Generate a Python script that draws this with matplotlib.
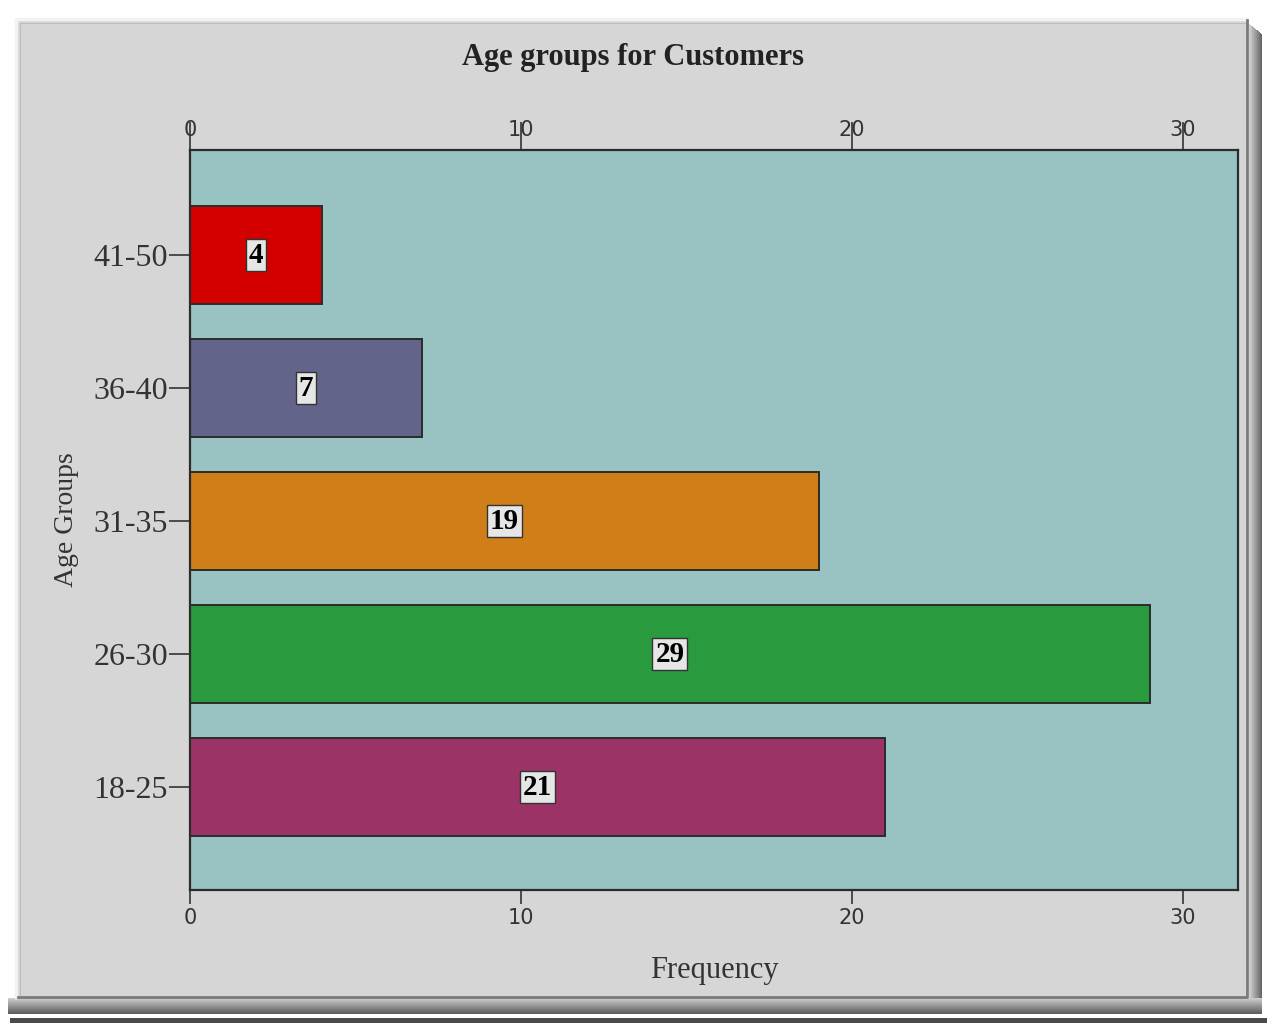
import numpy as np
import matplotlib.pyplot as plt
from matplotlib.patches import Rectangle
from matplotlib.lines import Line2D

# Customer counts per age group (bottom to top)
age_groups = ["18-25", "26-30", "31-35", "36-40", "41-50"]
frequency = [21, 29, 19, 7, 4]
bar_colors = ["#9b3366", "#2a9a3e", "#d07e18", "#636489", "#d40000"]
x_ticks = [0, 10, 20, 30]

W, H = 1267, 1023
fig = plt.figure(figsize=(W / 100, H / 100), dpi=100, facecolor="white")


def px_rect(x0, y0, x1, y1, **kw):
    return Rectangle((x0 / W, 1 - y1 / H), (x1 - x0) / W, (y1 - y0) / H,
                     transform=fig.transFigure, zorder=-10, **kw)


def px_line(xs, ys, **kw):
    return Line2D([x / W for x in xs], [1 - y / H for y in ys],
                  transform=fig.transFigure, zorder=-9, **kw)


# bevelled shadow under and to the right of the panel
for i, g in enumerate(np.linspace(0.80, 0.36, 16)):
    fig.patches.append(px_rect(8, 998 + i, 1262, 999 + i, facecolor=str(g),
                               edgecolor="none"))
for i, g in enumerate(np.linspace(0.82, 0.40, 13)):
    fig.patches.append(px_rect(1249 + i, 24 + i * 0.8, 1250 + i, 998, facecolor=str(g),
                               edgecolor="none"))
fig.patches.append(px_rect(10, 1018, 1267, 1023, facecolor="#4a4a4a", edgecolor="none"))

# grey panel
fig.patches.append(px_rect(16, 19, 1248, 997, facecolor="#d6d6d6", edgecolor="none"))
fig.lines.append(px_line([16, 16, 1246], [997, 19, 19], color="#f2f2f2", linewidth=2.5))
fig.lines.append(px_line([20, 20, 1245], [995, 23, 23], color="#bdbdbd", linewidth=0.8))
fig.lines.append(px_line([18, 1247, 1247], [997, 997, 20], color="#7a7a7a", linewidth=2))

ax = fig.add_axes([190 / W, 1 - 890 / H, (1238 - 190) / W, (890 - 150) / H])
ax.set_facecolor("#99c3c3")

ypos = list(range(len(age_groups)))
ax.barh(ypos, frequency, height=0.74, color=bar_colors,
        edgecolor="#2b2b2b", linewidth=1.4, zorder=2)

for y, v in zip(ypos, frequency):
    ax.text(v / 2, y, str(v), ha="center", va="center", family="Liberation Serif",
            fontsize=21, fontweight="bold", color="black", zorder=3,
            bbox=dict(boxstyle="square,pad=0.1", facecolor="#e6e6e6",
                      edgecolor="#333333", linewidth=1.0))

ax.set_xlim(0, 31.66)
ax.set_ylim(-0.774, 4.79)

ax.set_yticks(ypos)
ax.set_yticklabels(age_groups, family="Liberation Serif", fontsize=23, color="#333333")
ax.tick_params(axis="y", length=15, width=1.2, pad=1, color="#333333")

# bottom frequency axis
ax.set_xticks(x_ticks)
ax.tick_params(axis="x", direction="out", length=10, width=1.2, pad=3, labelsize=15,
               color="#333333", labelcolor="#333333")

# mirrored axis on top, ticks running through the labels
top = ax.secondary_xaxis("top")
top.set_xticks(x_ticks)
top.tick_params(direction="out", length=20, width=1.2, pad=-13, labelsize=15,
                color="#333333", labelcolor="#333333")
top.spines["top"].set_visible(False)

for s in ax.spines.values():
    s.set_color("#2b2b2b")
    s.set_linewidth(1.6)

ax.set_xlabel("Frequency", family="Liberation Serif", fontsize=22, color="#333333",
              labelpad=20)
ax.set_ylabel("Age Groups", family="Liberation Serif", fontsize=20, color="#333333",
              labelpad=10)

fig.text(633 / W, 1 - 57 / H, "Age groups for Customers", ha="center", va="center",
         family="Liberation Serif", fontsize=22, fontweight="bold", color="#222222")

fig.savefig("out.png", dpi=100, facecolor="white")
